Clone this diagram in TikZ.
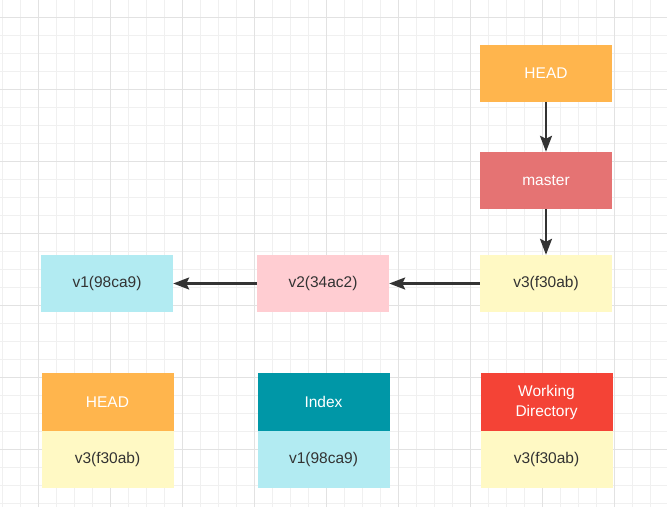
\documentclass[tikz,border=0pt]{standalone}
\usepackage{fontspec}
\setmainfont{Liberation Sans}
\usetikzlibrary{arrows.meta}
\definecolor{minorgrid}{HTML}{F0F0F0}
\definecolor{majorgrid}{HTML}{E2E2E2}
\definecolor{headc}{HTML}{FFB54D}
\definecolor{masterc}{HTML}{E57373}
\definecolor{yelc}{HTML}{FFF9C4}
\definecolor{pinkc}{HTML}{FFCDD2}
\definecolor{cyanc}{HTML}{B2EBF2}
\definecolor{tealc}{HTML}{0097A7}
\definecolor{redc}{HTML}{F44336}
\definecolor{txt}{HTML}{333333}
\tikzset{
  box/.style={rectangle, inner sep=0pt, minimum width=132pt, minimum height=57pt, font=\fontsize{15.5}{20}\selectfont, align=center},
  darkbox/.style={box, fill=#1, text=white},
  lightbox/.style={box, fill=#1, text=txt},
  conn/.style={draw=txt, line width=2.4pt, -{Stealth[length=16pt,width=12pt,inset=3pt]}},
  minorline/.style={draw=minorgrid, line width=1pt},
  majorline/.style={draw=majorgrid, line width=1pt}
}
\begin{document}
\begin{tikzpicture}[x=1pt,y=-1pt]
\useasboundingbox (0,0) rectangle (667,507);
\fill[white] (0,0) rectangle (667,507);
% grid
\foreach \x in {2,20,...,668} {\draw[minorline] (\x,0) -- (\x,507);}
\foreach \y in {17,35,...,507} {\draw[minorline] (0,\y) -- (667,\y);}
\foreach \x in {38,110,...,668} {\draw[majorline] (\x,0) -- (\x,507);}
\foreach \y in {17,89,...,507} {\draw[majorline] (0,\y) -- (667,\y);}
% top chain
\node[darkbox=headc] (head) at (546,73.5) {HEAD};
\node[darkbox=masterc] (master) at (546,180.5) {master};
\node[lightbox=yelc] (v3) at (546,283.5) {v3(f30ab)};
\node[lightbox=pinkc] (v2) at (323,283.5) {v2(34ac2)};
\node[lightbox=cyanc] (v1) at (107,283.5) {v1(98ca9)};
\draw[conn] (head) -- (master);
\draw[conn] (master) -- (v3);
\draw[conn] (v3) -- (v2);
\draw[conn] (v2) -- (v1);
% bottom trees
\node[darkbox=headc, minimum height=58pt] (bhead) at (107.5,402) {HEAD};
\node[lightbox=yelc] (bheadv) at (107.5,459.5) {v3(f30ab)};
\node[darkbox=tealc, minimum height=58pt] (bindex) at (323.5,402) {Index};
\node[lightbox=cyanc] (bindexv) at (323.5,459.5) {v1(98ca9)};
\node[darkbox=redc, minimum height=58pt] (bwd) at (546.5,402) {Working\\Directory};
\node[lightbox=yelc] (bwdv) at (546.5,459.5) {v3(f30ab)};
\end{tikzpicture}
\end{document}
